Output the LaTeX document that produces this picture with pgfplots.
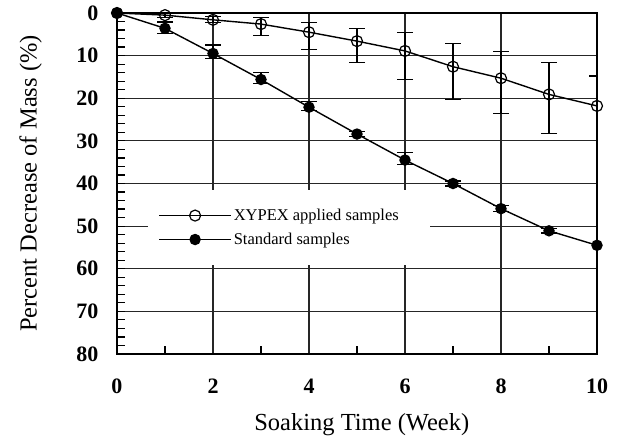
\documentclass[border=0pt]{standalone}
\usepackage{pgfplots}
\pgfplotsset{compat=1.18}
\usepackage{fontspec}
\setmainfont{Liberation Serif}

\pgfplotstableread{
x y em ep
1 0.5 0.6 0.6
2 1.6 0.7 0.7
3 2.6 1.5 2.6
4 4.5 2.2 4.0
5 6.6 3.0 5.0
6 8.9 4.4 6.7
7 12.6 5.4 7.7
8 15.3 6.2 8.2
9 19.1 7.4 9.1
}\xypexerr
\pgfplotstableread{
x y em ep
10 21.8 7.0 0
}\xypexerrlast
\pgfplotstableread{
x y
0 0
1 0.5
2 1.6
3 2.6
4 4.5
5 6.6
6 8.9
7 12.6
8 15.3
9 19.1
10 21.8
}\xypex
\pgfplotstableread{
x y em ep
1 3.6 1.5 1.3
2 9.5 2.0 1.1
3 15.6 1.6 0.9
4 22.1 1.3 0.7
5 28.4 0.6 0.6
6 34.5 1.7 1.0
7 40.0 0.6 0.6
8 45.9 0.7 0.7
9 51.1 0.5 0.5
}\stderr
\pgfplotstableread{
x y
0 0
1 3.6
2 9.5
3 15.6
4 22.1
5 28.4
6 34.5
7 40.0
8 45.9
9 51.1
10 54.5
}\standard

\begin{document}
\begin{tikzpicture}
\begin{axis}[name=ax, scale only axis, width=480pt, height=341pt,
  xmin=0, xmax=10, ymin=0, ymax=80, y dir=reverse,
  xtick={0,2,...,10}, ytick={0,10,...,80},
  minor xtick={1,3,5,7,9}, minor ytick={2,4,...,78},
  xtick pos=left, ytick pos=left, tick align=inside,
  major tick length=0pt, minor tick length=8pt,
  minor tick style={line width=1.2pt, black},
  grid=major, major grid style={black!85, line width=1.2pt},
  axis line style={line width=1.8pt},
  /pgf/number format/assume math mode=true,
  tick label style={font=\fontsize{22}{24}\selectfont\bfseries},
  xticklabel style={yshift=-21pt}, yticklabel style={xshift=-15pt},
  xlabel={Soaking Time (Week)}, ylabel={Percent Decrease of Mass (\%)},
  label style={font=\fontsize{24.5}{28}\selectfont},
  xlabel style={at={(axis description cs:0.51,-0.208)}, anchor=center},
  ylabel style={at={(axis description cs:-0.18,0.5)}, anchor=center},
  legend cell align=left,
  legend style={at={(axis cs:0.65,41.5)}, anchor=north west, fill=white, draw=none,
    font=\fontsize{16.5}{18}\selectfont, row sep=7pt, inner xsep=10pt, inner ysep=17pt},
  legend image code/.code={\draw[mark repeat=2,mark phase=2,#1] plot coordinates {(0pt,0pt) (36pt,0pt) (72pt,0pt)};},
  error bars/error bar style={draw=black, line width=1.2pt},
  error bars/error mark options={rotate=90, mark size=8pt, line width=1.2pt, draw=black},
]
\addplot[draw=none, mark=none, forget plot, error bars/.cd, y dir=both, y explicit]
  table[x=x, y=y, y error plus=ep, y error minus=em] {\xypexerr};
\addplot[draw=none, mark=none, forget plot, error bars/.cd, y dir=minus, y explicit]
  table[x=x, y=y, y error plus=ep, y error minus=em] {\xypexerrlast};
\addplot[draw=none, mark=none, forget plot, error bars/.cd, y dir=both, y explicit]
  table[x=x, y=y, y error plus=ep, y error minus=em] {\stderr};
\addplot[black, line width=1.4pt, mark=o, mark size=5.5pt, mark options={line width=1.2pt}]
  table[x=x, y=y] {\xypex};
\addlegendentry{\makebox[184pt][l]{XYPEX applied samples}}
\addplot[black, line width=1.4pt, mark=*, mark size=5pt, mark options={fill=black}]
  table[x=x, y=y] {\standard};
\addlegendentry{\makebox[184pt][l]{Standard samples}}
\end{axis}
\pgfresetboundingbox
\path ([shift={(-117pt,-85pt)}]ax.south west) rectangle ([shift={(21pt,13pt)}]ax.north east);
\end{tikzpicture}
\end{document}
